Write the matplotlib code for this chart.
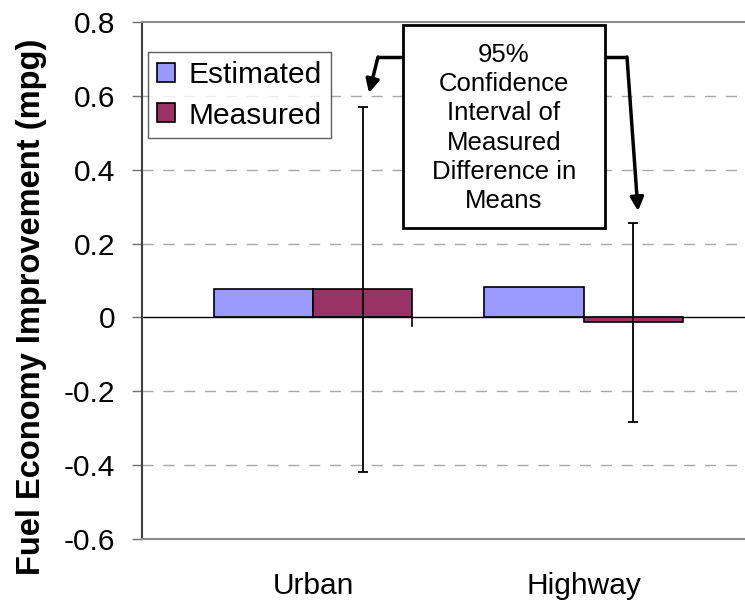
import matplotlib
matplotlib.use("Agg")
import matplotlib.pyplot as plt
from matplotlib.patches import Rectangle
import numpy as np

plt.rcParams['font.family'] = ['Liberation Sans', 'DejaVu Sans']

# Data
categories = ["Urban", "Highway"]
estimated = [0.076, 0.082]
measured = [0.076, -0.013]
measured_ci = [0.495, 0.270]   # half-width of 95% confidence interval
series_names = ["Estimated", "Measured"]
y_ticks = [-0.6, -0.4, -0.2, 0.0, 0.2, 0.4, 0.6, 0.8]
y_ticklabels = ["-0.6", "-0.4", "-0.2", "0", "0.2", "0.4", "0.6", "0.8"]

W, H = 745, 604
fig = plt.figure(figsize=(W / 100, H / 100), dpi=100)
ax = fig.add_axes([142 / W, 1 - 539 / H, 1 - 142 / W, (539 - 22) / H])

x = np.arange(len(categories))
bw = 0.367
ax.bar(x - bw, estimated, width=bw, align='edge', color='#9999FF',
       edgecolor='black', linewidth=1.2, label=series_names[0], zorder=3)
ax.bar(x, measured, width=bw, align='edge', color='#993366',
       edgecolor='black', linewidth=1.2, label=series_names[1], zorder=3)
ax.errorbar(x + 0.5 * bw, measured, yerr=measured_ci, fmt='none',
            ecolor='black', elinewidth=1.3, capsize=3.8, capthick=1.3, zorder=4)

ax.set_xlim(-0.633, (W - 314) / 270)
ax.set_ylim(-0.6, 0.8)

# horizontal gridlines and frame
for v in y_ticks[1:-1]:
    if v == 0:
        continue
    ax.axhline(v, color='#a8a8a8', lw=1.0, dashes=(8, 7), zorder=1)
ax.axhline(0, color='black', lw=1.0, zorder=2)
for side in ('top', 'bottom'):
    ax.spines[side].set_color('#8c8c8c')
    ax.spines[side].set_linewidth(1.5)
ax.spines['right'].set_visible(False)
ax.spines['left'].set_color('#404040')
ax.spines['left'].set_linewidth(1.5)

ax.set_yticks(y_ticks)
ax.set_yticklabels(y_ticklabels, fontsize=21.5)
ax.tick_params(axis='y', direction='out', length=7.5, width=1, color='#707070', pad=12)

ax.set_xticks(x)
ax.set_xticklabels(categories, fontsize=21.5)
ax.tick_params(axis='x', length=0, pad=24)
# short tick mark on the zero line between the two categories
ax.plot([x[0] + bw, x[0] + bw], [0, -0.022], color='black', lw=1.2, zorder=3,
        clip_on=False)

ax.set_ylabel("Fuel Economy Improvement (mpg)", fontsize=23.5, fontweight='bold')
ax.yaxis.set_label_coords(-0.157, 0.45)

leg = ax.legend(loc='upper left', bbox_to_anchor=(148 / W, 1 - 52 / H),
                bbox_transform=fig.transFigure, fontsize=21.5, frameon=True,
                fancybox=False, borderaxespad=0, borderpad=0.3,
                handlelength=0.6, handleheight=0.6, handletextpad=0.45,
                labelspacing=0.42)
leg.get_frame().set_edgecolor('#333333')
leg.get_frame().set_linewidth(1.0)


def px(xp, yp):
    """Figure pixel position to data coordinates."""
    d = ax.transData.inverted().transform(fig.transFigure.transform((xp / W, 1 - yp / H)))
    return tuple(d)


# annotation box
x0, y0 = px(403, 228)
x1, y1 = px(605, 25)
ax.add_patch(Rectangle((x0, y0), x1 - x0, y1 - y0, facecolor='white',
                       edgecolor='black', lw=2, zorder=5))
ax.text((x0 + x1) / 2, px(0, 128)[1],
        "95%\nConfidence\nInterval of\nMeasured\nDifference in\nMeans",
        ha='center', va='center', fontsize=18.5, linespacing=1.28, zorder=6)

# leader arrows
arrow = dict(arrowstyle='-|>,head_length=0.8,head_width=0.4', color='black', lw=2.5,
             shrinkA=0, shrinkB=0)
ax.plot([px(403, 57)[0], px(378, 57)[0]], [px(403, 57)[1]] * 2, color='black', lw=2.5,
        zorder=5, solid_capstyle='butt')
ax.annotate("", xy=px(369, 93), xytext=px(378, 57), arrowprops=arrow, zorder=5)
ax.plot([px(605, 57)[0], px(627, 57)[0]], [px(605, 57)[1]] * 2, color='black', lw=2.5,
        zorder=5, solid_capstyle='butt')
ax.annotate("", xy=px(638, 211), xytext=px(627, 57), arrowprops=arrow, zorder=5)

fig.savefig("out.png", dpi=100)
